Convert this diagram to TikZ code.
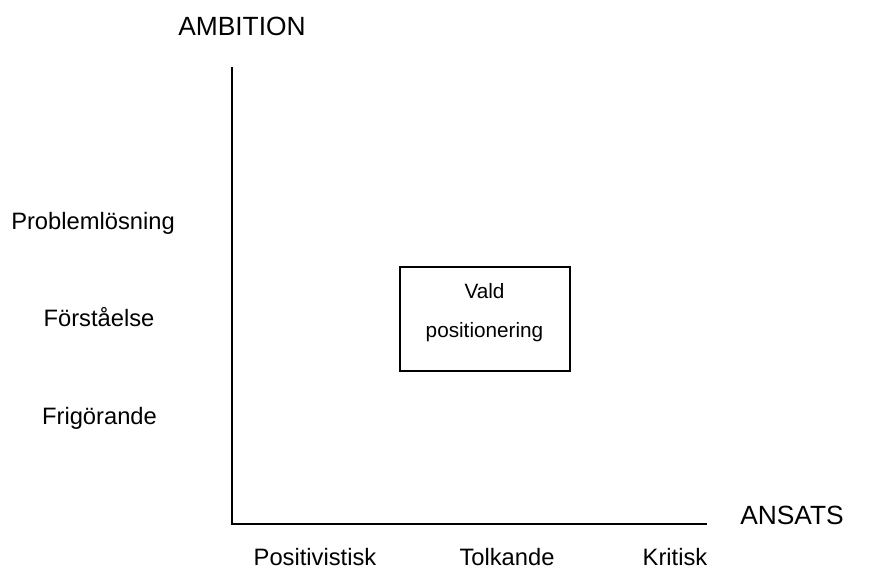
\documentclass[tikz,border=0pt]{standalone}
\usepackage{fontspec}
\setmainfont{Liberation Sans}
\usepackage{tikz}
\tikzset{
  axis/.style={line width=1.1pt},
  lbl/.style={anchor=base,inner sep=0pt,font=\fontsize{13.5}{16}\selectfont},
  ttl/.style={anchor=base,inner sep=0pt,font=\fontsize{15}{18}\selectfont},
  posbox/.style={draw,line width=0.85pt,minimum width=3.4cm,minimum height=2.08cm,inner sep=0pt}
}

\begin{document}
\begin{tikzpicture}[x=0.02cm,y=-0.02cm]
  \useasboundingbox (0,0) rectangle (875,568);
  \coordinate (O) at (232,524);
  \coordinate (Y) at (232,67);
  \coordinate (X) at (707,524);
  \draw[axis] (Y) -- (O) -- (X);
  \node[ttl] (ambition) at (242,35) {AMBITION};
  \node[ttl] (ansats) at (792,524) {ANSATS};
  % ambition levels
  \node[lbl] (problem) at (93,229) {Problemlösning};
  \node[lbl] (forst) at (99,326) {Förståelse};
  \node[lbl] (frig) at (99.5,424) {Frigörande};
  % approaches
  \node[lbl] (posit) at (315,565) {Positivistisk};
  \node[lbl] (tolk) at (507,565) {Tolkande};
  \node[lbl] (krit) at (675,565) {Kritisk};
  % chosen position
  \node[posbox] (box) at (485,319) {};
  \node[anchor=base,inner sep=0pt,align=center,
    font=\fontsize{11.8}{22.2}\selectfont] (vald) at (484.5,337) {Vald\\positionering};
\end{tikzpicture}
\end{document}
